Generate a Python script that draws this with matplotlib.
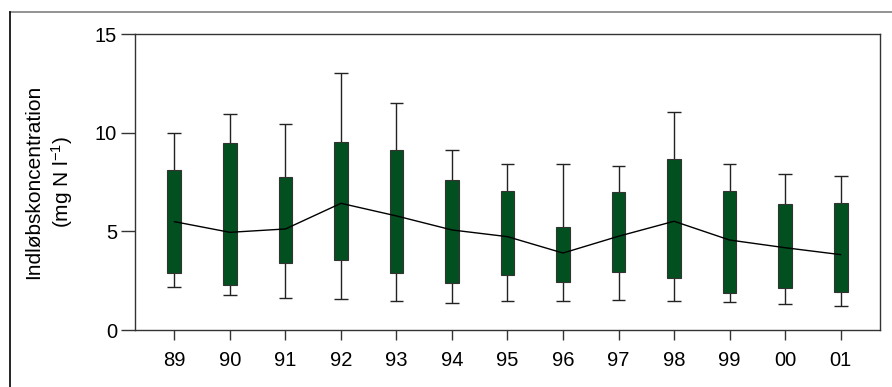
import numpy as np
import matplotlib
matplotlib.use('Agg')
import matplotlib.pyplot as plt
from matplotlib.lines import Line2D

plt.rcParams['font.family'] = ['Liberation Sans', 'DejaVu Sans']
plt.rcParams['mathtext.fontset'] = 'custom'
plt.rcParams['mathtext.rm'] = 'Liberation Sans'
plt.rcParams['mathtext.it'] = 'Liberation Sans'

# Aarstal og kvartiler / whiskers aflaest fra figuren
years = ['89', '90', '91', '92', '93', '94', '95', '96', '97', '98', '99', '00', '01']
whisk_hi = [9.98, 10.93, 10.44, 13.01, 11.50, 9.11, 8.40, 8.43, 8.33, 11.07, 8.43, 7.92, 7.82]
q3 = [8.12, 9.46, 7.74, 9.51, 9.11, 7.59, 7.05, 5.24, 6.98, 8.65, 7.03, 6.39, 6.45]
q1 = [2.87, 2.28, 3.38, 3.55, 2.89, 2.38, 2.77, 2.45, 2.92, 2.62, 1.89, 2.11, 1.93]
whisk_lo = [2.18, 1.77, 1.61, 1.55, 1.47, 1.37, 1.47, 1.47, 1.54, 1.49, 1.42, 1.32, 1.22]
middle = [5.49, 4.95, 5.12, 6.42, 5.78, 5.07, 4.73, 3.90, 4.75, 5.51, 4.56, 4.17, 3.82]

x = np.arange(len(years))
w = 0.25
green = '#02501f'

fig = plt.figure(figsize=(8.92, 3.87), dpi=100)
ax = fig.add_axes([135/892, 57/387, 745/892, 296/387])

# Whiskers
ax.vlines(x, q3, whisk_hi, color='#222222', linewidth=1.0, zorder=2)
ax.vlines(x, whisk_lo, q1, color='#222222', linewidth=1.0, zorder=2)
ax.hlines(whisk_hi, x - w/2, x + w/2, color='#222222', linewidth=1.0, zorder=2)
ax.hlines(whisk_lo, x - w/2, x + w/2, color='#222222', linewidth=1.0, zorder=2)

# Bokse
ax.bar(x, np.array(q3) - np.array(q1), bottom=q1, width=w, color=green,
       edgecolor='#333333', linewidth=0.8, zorder=3)

# Linje gennem midtvaerdier
ax.plot(x, middle, color='black', linewidth=1.0, zorder=4)

ax.set_xlim(-0.71, len(years) - 1 + 0.71)
ax.set_ylim(0, 15)
ax.set_yticks([0, 5, 10, 15])
ax.set_xticks(x)
ax.set_xticklabels(years)
ax.tick_params(axis='both', labelsize=14.5, color='#333333', width=1.0)
ax.tick_params(axis='y', length=10, pad=3)
ax.tick_params(axis='x', length=7, pad=8)
for s in ax.spines.values():
    s.set_color('#333333')
    s.set_linewidth(1.0)

ax.set_ylabel('Indløbskoncentration\n(mg N l$^{-1}$)', fontsize=15, labelpad=14,
              linespacing=1.3)

# Ydre ramme
fig.add_artist(Line2D([10/892, 1.0], [1 - 12/387, 1 - 12/387], transform=fig.transFigure,
                      color='#808080', linewidth=1.2))
fig.add_artist(Line2D([10/892, 10/892], [0.0, 1 - 12/387], transform=fig.transFigure,
                      color='black', linewidth=1.2))

fig.savefig('out.png', dpi=100)
